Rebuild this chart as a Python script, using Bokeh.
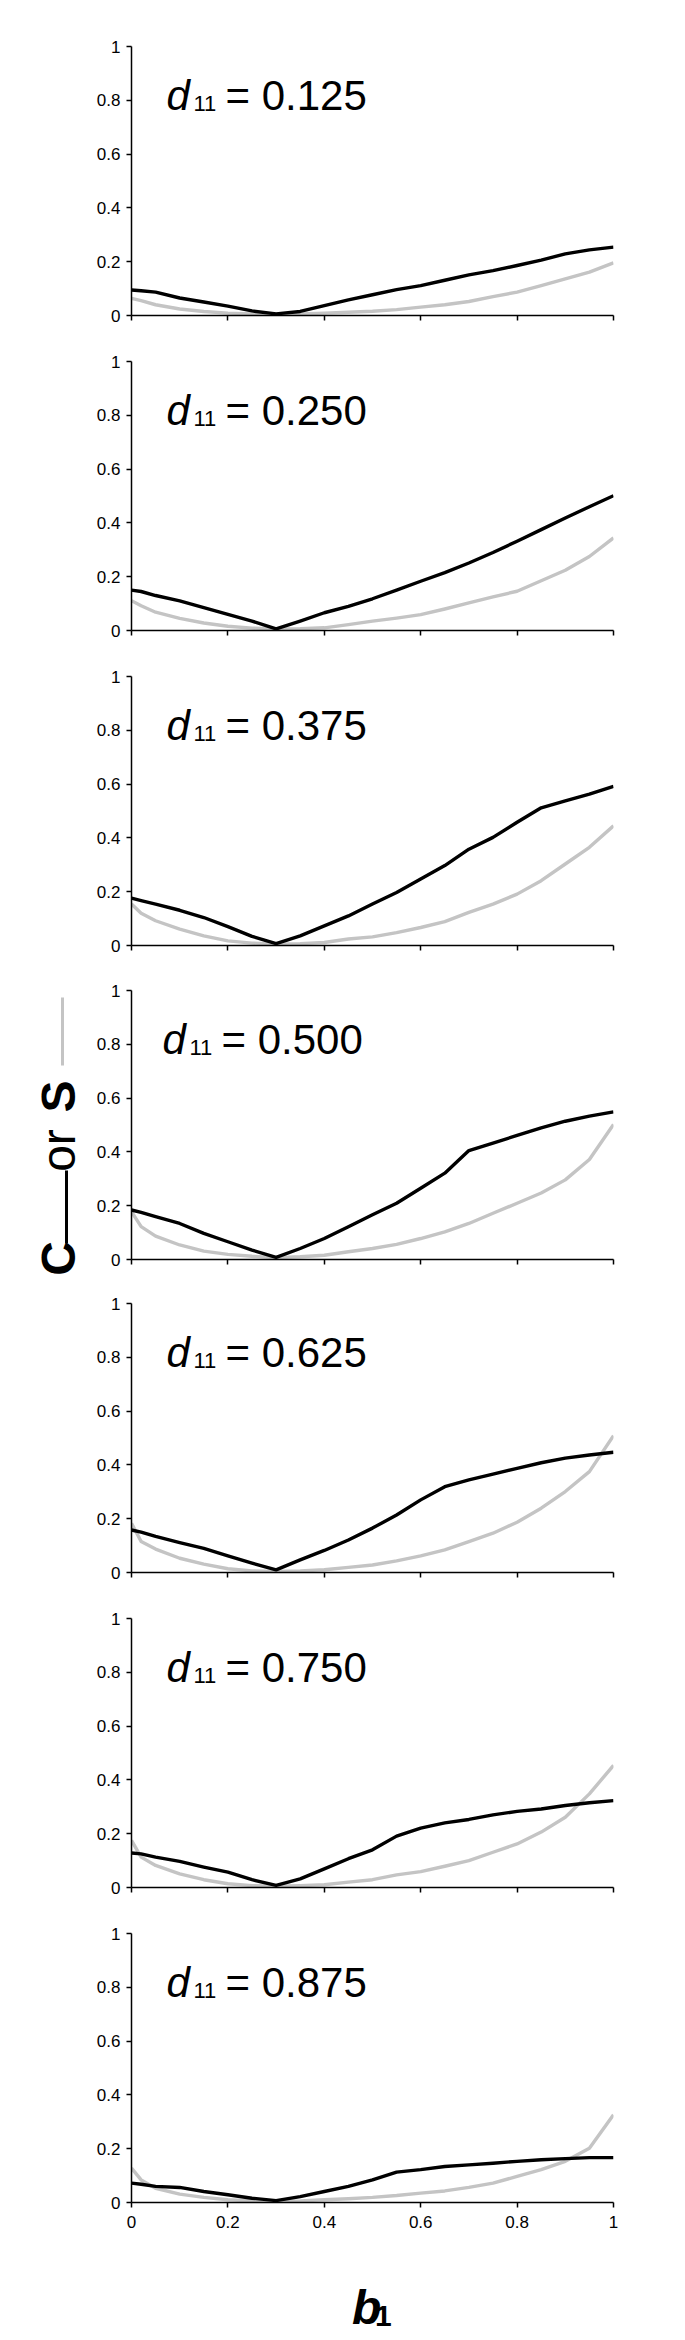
from bokeh.plotting import figure
from bokeh.layouts import column, row, Spacer
from bokeh.models import Range1d, FixedTicker, CustomJSTickFormatter
from bokeh.core.properties import value
from bokeh.embed import file_html
from bokeh.resources import INLINE
import math

# ---------------- data ----------------
b1 = [0, 0.02, 0.05, 0.1, 0.15, 0.2, 0.25, 0.3, 0.35, 0.4, 0.45, 0.5,
      0.55, 0.6, 0.65, 0.7, 0.75, 0.8, 0.85, 0.9, 0.95, 1.0]

d11_values = ["0.125", "0.250", "0.375", "0.500", "0.625", "0.750", "0.875"]

C_0125 = [0.095, 0.092, 0.087, 0.065, 0.050, 0.035, 0.017, 0.006, 0.015, 0.037, 0.058, 0.077,
          0.096, 0.111, 0.131, 0.151, 0.167, 0.186, 0.206, 0.229, 0.244, 0.254]
S_0125 = [0.064, 0.055, 0.040, 0.024, 0.015, 0.009, 0.006, 0.005, 0.006, 0.009, 0.012, 0.016,
          0.022, 0.031, 0.040, 0.052, 0.070, 0.087, 0.111, 0.136, 0.161, 0.196]

C_0250 = [0.150, 0.145, 0.130, 0.110, 0.085, 0.060, 0.035, 0.006, 0.035, 0.066, 0.090, 0.118,
          0.150, 0.183, 0.215, 0.251, 0.290, 0.332, 0.375, 0.418, 0.460, 0.501]
S_0250 = [0.111, 0.092, 0.068, 0.045, 0.028, 0.016, 0.009, 0.006, 0.007, 0.010, 0.022, 0.035,
          0.046, 0.059, 0.080, 0.103, 0.125, 0.146, 0.185, 0.224, 0.275, 0.344]

C_0375 = [0.176, 0.167, 0.154, 0.131, 0.104, 0.070, 0.034, 0.007, 0.036, 0.073, 0.110, 0.154,
          0.197, 0.247, 0.297, 0.358, 0.402, 0.458, 0.512, 0.538, 0.563, 0.592]
S_0375 = [0.154, 0.120, 0.092, 0.061, 0.036, 0.017, 0.009, 0.005, 0.007, 0.011, 0.024, 0.032,
          0.048, 0.067, 0.089, 0.123, 0.154, 0.191, 0.241, 0.303, 0.365, 0.445]

C_0500 = [0.184, 0.175, 0.159, 0.134, 0.097, 0.066, 0.035, 0.008, 0.041, 0.078, 0.122, 0.166,
          0.209, 0.265, 0.321, 0.405, 0.433, 0.461, 0.489, 0.514, 0.533, 0.549]
S_0500 = [0.178, 0.122, 0.087, 0.054, 0.031, 0.019, 0.012, 0.007, 0.010, 0.016, 0.029, 0.041,
          0.056, 0.078, 0.103, 0.134, 0.172, 0.209, 0.247, 0.296, 0.372, 0.502]

C_0625 = [0.158, 0.150, 0.134, 0.111, 0.090, 0.062, 0.035, 0.010, 0.047, 0.082, 0.121, 0.165,
          0.214, 0.270, 0.319, 0.344, 0.366, 0.387, 0.408, 0.425, 0.437, 0.447]
S_0625 = [0.183, 0.115, 0.087, 0.053, 0.031, 0.014, 0.006, 0.004, 0.006, 0.010, 0.019, 0.028,
          0.043, 0.062, 0.084, 0.115, 0.146, 0.187, 0.239, 0.301, 0.375, 0.509]

C_0750 = [0.128, 0.125, 0.113, 0.097, 0.076, 0.057, 0.029, 0.008, 0.032, 0.069, 0.107, 0.140,
          0.191, 0.221, 0.240, 0.253, 0.270, 0.283, 0.292, 0.305, 0.315, 0.323]
S_0750 = [0.175, 0.113, 0.082, 0.051, 0.029, 0.014, 0.007, 0.005, 0.007, 0.010, 0.020, 0.029,
          0.047, 0.059, 0.079, 0.100, 0.131, 0.162, 0.206, 0.261, 0.348, 0.454]

C_0875 = [0.072, 0.068, 0.060, 0.056, 0.041, 0.029, 0.016, 0.007, 0.022, 0.041, 0.060, 0.084,
          0.113, 0.122, 0.134, 0.140, 0.146, 0.153, 0.159, 0.163, 0.167, 0.167]
S_0875 = [0.128, 0.084, 0.053, 0.031, 0.019, 0.010, 0.006, 0.004, 0.006, 0.010, 0.014, 0.019,
          0.026, 0.035, 0.043, 0.056, 0.072, 0.097, 0.122, 0.153, 0.202, 0.326]

C_series = [C_0125, C_0250, C_0375, C_0500, C_0625, C_0750, C_0875]
S_series = [S_0125, S_0250, S_0375, S_0500, S_0625, S_0750, S_0875]

y_ticks = [0, 0.2, 0.4, 0.6, 0.8, 1]
x_ticks = [0, 0.2, 0.4, 0.6, 0.8, 1]

# ---------------- styling / layout ----------------
FONT = "Liberation Sans"
BLACK = "#000000"
GRAY = "#c4c4c4"
LEFT_W = 78
PANEL_W = 590
BORDER_L = 53
BORDER_R = 55
BORDER_T = 12
FRAME_H = 269
heights = [315, 315, 314, 313, 315, 315, 316]
label_dx = [0, 0, 0, -4, 0, 0, 0]
TOP_SPACE = 34

fmt = CustomJSTickFormatter(code="return String(tick);")

panels = []
for i in range(7):
    last = (i == 6)
    h = heights[i]
    p = figure(width=PANEL_W, height=h, output_backend="svg", toolbar_location=None,
               x_range=Range1d(0, 1), y_range=Range1d(0, 1),
               min_border_left=BORDER_L, min_border_right=BORDER_R,
               min_border_top=BORDER_T, min_border_bottom=h - BORDER_T - FRAME_H)
    p.outline_line_color = None
    p.grid.visible = False
    p.background_fill_color = "white"
    p.border_fill_color = "white"

    for ax in (p.xaxis[0], p.yaxis[0]):
        ax.axis_line_color = BLACK
        ax.axis_line_width = 1.5
        ax.major_tick_line_color = BLACK
        ax.major_tick_line_width = 1.5
        ax.major_tick_in = 0
        ax.major_tick_out = 5
        ax.minor_tick_line_color = None
        ax.major_label_text_font = FONT
        ax.major_label_text_font_size = "17px"
        ax.major_label_text_color = BLACK
        ax.formatter = fmt
    p.yaxis[0].ticker = FixedTicker(ticks=y_ticks)
    p.xaxis[0].ticker = FixedTicker(ticks=x_ticks)
    p.yaxis[0].major_label_standoff = 6
    if last:
        p.xaxis[0].major_label_standoff = 8
    else:
        p.xaxis[0].major_label_text_color = None
        p.xaxis[0].major_label_standoff = 0

    p.line(b1, S_series[i], line_color=GRAY, line_width=3.4, line_join="round")
    p.line(b1, C_series[i], line_color=BLACK, line_width=3.4, line_join="round")

    lx, ly = 0.0726, 0.818
    dx = label_dx[i]
    p.text(x=[lx], y=[ly], text=["d"], text_font=value(FONT), text_font_style="italic",
           text_font_size="42px", text_baseline="alphabetic", text_align="left",
           text_color=BLACK, x_offset=dx)
    p.text(x=[lx], y=[ly], text=["11"], text_font=value(FONT),
           text_font_size="22px", text_baseline="alphabetic", text_align="left",
           text_color=BLACK, x_offset=27 + dx, y_offset=8)
    p.text(x=[lx], y=[ly], text=["= " + d11_values[i]], text_font=value(FONT),
           text_font_size="42px", text_baseline="alphabetic", text_align="left",
           text_color=BLACK, x_offset=59 + dx)
    panels.append(p)

# ---------- y-axis title (left strip; y measured upward from page bottom) ----------
TOTAL_H = 2330
left = figure(width=LEFT_W, height=TOTAL_H, output_backend="svg", toolbar_location=None,
              x_range=Range1d(0, LEFT_W), y_range=Range1d(0, TOTAL_H),
              x_axis_location=None, y_axis_location=None, min_border=0)
left.outline_line_color = None
left.grid.visible = False
rot = math.pi / 2
TX = 58  # vertical centre line of the rotated title's em-box


def up(page_y):
    return TOTAL_H - page_y


left.text(x=[TX], y=[up(1258)], text=["C"], angle=rot, text_font=value(FONT),
          text_font_style="bold", text_font_size="48px", text_align="center",
          text_baseline="middle", text_color=BLACK)
left.segment(x0=[66], y0=[up(1243)], x1=[66], y1=[up(1170)], line_color=BLACK, line_width=3)
left.text(x=[TX], y=[up(1150)], text=["or"], angle=rot, text_font=value(FONT),
          text_font_size="48px", text_align="center",
          text_baseline="middle", text_color=BLACK)
left.text(x=[TX], y=[up(1096)], text=["S"], angle=rot, text_font=value(FONT),
          text_font_style="bold", text_font_size="48px", text_align="center",
          text_baseline="middle", text_color=BLACK)
left.segment(x0=[62], y0=[up(1065)], x1=[62], y1=[up(997)], line_color=GRAY, line_width=3)

# ---------- x-axis title (bottom strip, page-pixel coordinates) ----------
BOT_TOP = TOP_SPACE + sum(heights)
BOT_H = TOTAL_H - BOT_TOP
bottom = figure(width=PANEL_W, height=BOT_H, output_backend="svg", toolbar_location=None,
                x_range=Range1d(LEFT_W, LEFT_W + PANEL_W), y_range=Range1d(BOT_TOP + BOT_H, BOT_TOP),
                x_axis_location=None, y_axis_location=None, min_border=0)
bottom.outline_line_color = None
bottom.grid.visible = False
bottom.text(x=[348], y=[2307], text=["b"], text_font=value(FONT),
            text_font_style="bold italic", text_font_size="48px", text_align="left",
            text_baseline="alphabetic", text_color=BLACK)
bottom.text(x=[376], y=[2315], text=["1"], text_font=value(FONT),
            text_font_style="bold", text_font_size="30px", text_align="left",
            text_baseline="alphabetic", text_color=BLACK)

layout = row(left, column(Spacer(height=TOP_SPACE), *panels, bottom, spacing=0), spacing=0)

open("out.html", "w").write(file_html(layout, INLINE))
